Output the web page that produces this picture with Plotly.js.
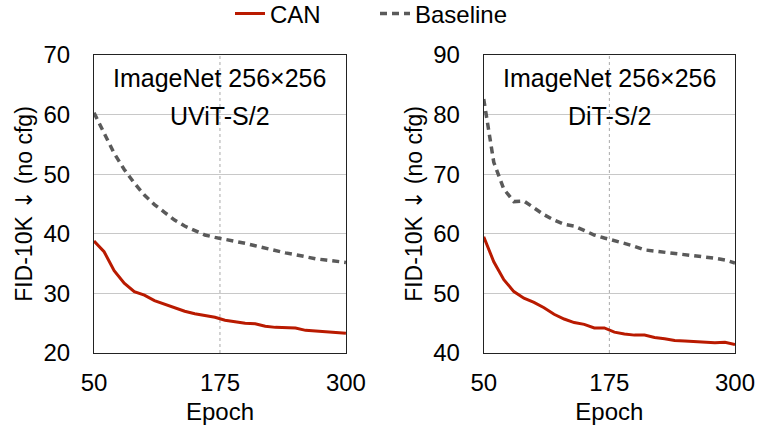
<!DOCTYPE html>
<html>
<head>
<meta charset="utf-8">
<script src="https://cdn.plot.ly/plotly-3.0.1.min.js"></script>
<style>html,body{margin:0;padding:0;background:#fff;}#chart{width:758px;height:429px;}</style>
</head>
<body>
<div id="chart"></div>
<script>
const epochs = [50,60,70,80,90,100,110,120,130,140,150,160,170,180,190,200,210,220,230,240,250,260,270,280,290,300];
const uvitCAN = [38.8,37.0,33.8,31.7,30.3,29.7,28.8,28.2,27.5,27.0,26.6,26.3,26.0,25.5,25.2,25.0,24.9,24.5,24.3,24.3,24.2,23.8,23.7,23.6,23.4,23.3];
const uvitBase = [60.3,57.0,53.5,50.8,48.5,46.5,44.9,43.6,42.3,41.3,40.5,39.8,39.4,39.1,38.7,38.4,38.0,37.6,37.1,36.8,36.5,36.1,35.8,35.6,35.4,35.2];
const ditCAN = [59.5,55.3,52.3,50.3,49.2,48.5,47.6,46.5,45.7,45.1,44.8,44.2,44.2,43.5,43.2,43.0,43.0,42.6,42.4,42.1,42.0,41.9,41.9,41.7,41.8,41.4];
const ditBase = [82.6,72.0,67.5,65.4,65.5,64.3,63.2,62.3,61.6,61.3,60.6,59.8,59.3,58.9,58.4,57.9,57.3,57.1,56.9,56.7,56.6,56.3,56.1,55.9,55.6,55.1];
const xTicks = [50,175,300];
const uvitYTicks = [20,30,40,50,60,70];
const ditYTicks = [40,50,60,70,80,90];

const red = '#b91a00', gray = '#5a5a5a';
const font = 'Liberation Sans, Arial, Helvetica, sans-serif';
const yTitle = 'FID-10K <span style="font-family:DejaVu Sans">\u2193</span> (no cfg)';
const baseDash = '7px,5px';

const traces = [
  {x: epochs, y: uvitCAN, xaxis:'x', yaxis:'y', mode:'lines', name:'CAN', line:{color:red, width:3}, legendgroup:'can'},
  {x: epochs, y: uvitBase, xaxis:'x', yaxis:'y', mode:'lines', name:'Baseline', line:{color:gray, width:3.5, dash:baseDash}, legendgroup:'base'},
  {x: epochs, y: ditCAN, xaxis:'x2', yaxis:'y2', mode:'lines', name:'CAN', line:{color:red, width:3}, showlegend:false, legendgroup:'can'},
  {x: epochs, y: ditBase, xaxis:'x2', yaxis:'y2', mode:'lines', name:'Baseline', line:{color:gray, width:3.5, dash:baseDash}, showlegend:false, legendgroup:'base'}
];

function xax(domain){
  return {domain: domain, range:[50,300], tickvals: xTicks, ticktext: xTicks.map(String),
    showgrid:false, zeroline:false, showline:true, linecolor:'#222', linewidth:1, mirror:true,
    ticks:'outside', ticklen:8, tickcolor:'rgba(0,0,0,0)', tickfont:{size:24, color:'#000'},
    title:{text:'Epoch', font:{size:24, color:'#000'}, standoff:8}};
}
function yax(range, ticks, anchor){
  return {range: range, tickvals: ticks, anchor: anchor,
    showgrid:true, gridcolor:'#c8c8c8', gridwidth:1, zeroline:false,
    showline:true, linecolor:'#222', linewidth:1, mirror:true,
    ticks:'outside', ticklen:18, tickcolor:'rgba(0,0,0,0)', tickfont:{size:24, color:'#000'},
    title:{text: yTitle, font:{size:23, color:'#000'}, standoff:4}};
}

const layout = {
  width:758, height:429,
  margin:{l:94, r:23, t:55, b:76, autoexpand:false},
  paper_bgcolor:'#fff', plot_bgcolor:'#fff',
  font:{family: font, color:'#000'},
  showlegend:true,
  legend:{orientation:'h', x:230/758, xref:'container', xanchor:'left', y:1 - 14/429, yanchor:'middle', yref:'container',
    font:{size:24, color:'#000'}, traceorder:'normal', entrywidth:100, entrywidthmode:'pixels', bgcolor:'rgba(0,0,0,0)'},
  xaxis: xax([0,0.393]),
  xaxis2: Object.assign(xax([0.608,1]), {anchor:'y2'}),
  yaxis: yax([20,70], uvitYTicks, 'x'),
  yaxis2: yax([40,90], ditYTicks, 'x2'),
  shapes: [
    {type:'line', xref:'x', yref:'y domain', x0:175, x1:175, y0:0, y1:1, line:{color:'#aaa', width:1, dash:'dot'}, layer:'below'},
    {type:'line', xref:'x2', yref:'y2 domain', x0:175, x1:175, y0:0, y1:1, line:{color:'#aaa', width:1, dash:'dot'}, layer:'below'}
  ],
  annotations: [
    {xref:'x domain', yref:'y domain', x:0.5, y:0.922, text:'ImageNet 256\u00d7256', showarrow:false, font:{size:25, color:'#000'}, xanchor:'center', yanchor:'middle'},
    {xref:'x domain', yref:'y domain', x:0.5, y:0.795, text:'UViT-S/2', showarrow:false, font:{size:25, color:'#000'}, xanchor:'center', yanchor:'middle'},
    {xref:'x2 domain', yref:'y2 domain', x:0.5, y:0.922, text:'ImageNet 256\u00d7256', showarrow:false, font:{size:25, color:'#000'}, xanchor:'center', yanchor:'middle'},
    {xref:'x2 domain', yref:'y2 domain', x:0.5, y:0.795, text:'DiT-S/2', showarrow:false, font:{size:25, color:'#000'}, xanchor:'center', yanchor:'middle'}
  ]
};

Plotly.newPlot('chart', traces, layout, {displayModeBar:false, staticPlot:true});
</script>
</body>
</html>
